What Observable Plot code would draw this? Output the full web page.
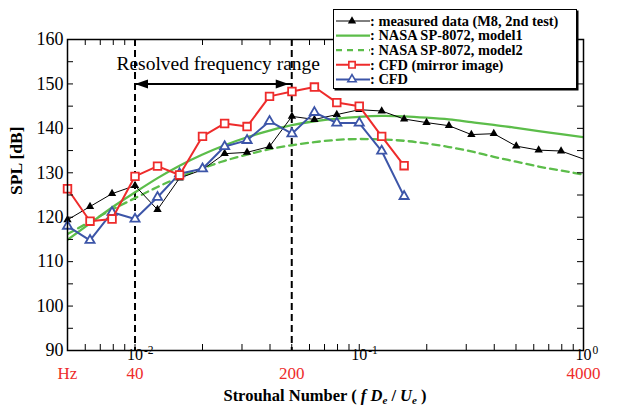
<!DOCTYPE html>
<html>
<head>
<meta charset="utf-8">
<script src="https://cdn.jsdelivr.net/npm/d3@7"></script>
<script src="https://cdn.jsdelivr.net/npm/@observablehq/plot@0.6"></script>
<style>
  body { margin: 0; background: white; }
  #wrap { position: relative; width: 619px; height: 407px; font-family: "Liberation Serif", "Times New Roman", serif; }
  #chart svg text { font-family: "Liberation Serif", "Times New Roman", serif; }
  #legend { position: absolute; left: 333px; top: 9px; width: 244px; height: 80px; box-sizing: border-box;
            border: 1.5px solid #000; background: #fff; box-shadow: 1.5px 1.5px 0 #000; }
  #legend svg { position: absolute; left: -1.5px; top: -1.5px; overflow: visible; }
  #xtitle { position: absolute; left: 67px; width: 516px; top: 388px; text-align: center; font-weight: bold;
            font-size: 16.5px; line-height: 16px; white-space: nowrap; }
  #xtitle sub { font-size: 11px; vertical-align: baseline; position: relative; top: 3px; }
</style>
</head>
<body>
<div id="wrap">
  <div id="chart"></div>
  <div id="legend"></div>
  <div id="xtitle">Strouhal Number ( <i>f D<sub>e</sub></i> / <i>U<sub>e</sub></i> )</div>
</div>
<script>
// ---- data ----
const strouhal = [0.005, 0.0063, 0.0079, 0.01, 0.0126, 0.0158, 0.02, 0.0251, 0.0316, 0.0398, 0.0501, 0.0631,
                  0.0794, 0.1, 0.1259, 0.1585, 0.1995, 0.2512, 0.3162, 0.3981, 0.5012, 0.631, 0.7943, 1.0];
const measured = [119.4, 122.4, 125.3, 127.1, 121.7, 128.8, 130.7, 134.3, 134.6, 135.9, 142.7, 142.0,
                  143.1, 144.2, 143.9, 142.1, 141.3, 140.6, 138.6, 138.8, 136.0, 135.1, 134.9, 133.1];
const model1 = [114.9, 118.6, 122.2, 125.6, 128.8, 131.6, 134.1, 136.2, 138.0, 139.5, 140.7, 141.6,
                142.2, 142.6, 142.8, 142.7, 142.4, 142.0, 141.4, 140.8, 140.1, 139.4, 138.7, 138.0];
const model2 = [116.2, 119.0, 121.7, 124.3, 126.8, 129.0, 131.0, 132.7, 134.1, 135.3, 136.2, 136.9,
                137.4, 137.6, 137.5, 137.2, 136.6, 135.8, 134.8, 133.6, 132.5, 131.4, 130.5, 129.6];
const cfdMirror = [126.4, 119.1, 119.6, 129.2, 131.5, 129.5, 138.2, 141.1, 140.4, 147.2, 148.3, 149.3,
                   145.8, 145.0, 138.2, 131.6];
const cfd = [118.0, 114.8, 121.1, 119.6, 124.5, 129.8, 130.9, 135.9, 137.3, 141.6, 138.8, 143.6,
             141.2, 141.2, 134.9, 124.7];

const yTickLabels = [90, 100, 110, 120, 130, 140, 150, 160];
const yTickMarks = [95, 100, 105, 110, 115, 120, 125, 130, 135, 140, 145, 150, 155];
const xTickMarks = [0.006, 0.007, 0.008, 0.009, 0.01, 0.02, 0.03, 0.04, 0.05, 0.06, 0.07, 0.08, 0.09,
                    0.1, 0.2, 0.3, 0.4, 0.5, 0.6, 0.7, 0.8, 0.9];
const xDecades = [0.01, 0.1, 1];
const xExponents = ["-2", "-1", "0"];
const hzPositions = [0.005, 0.01, 0.05, 1];
const hzLabels = ["Hz", "40", "200", "4000"];
const resolvedRange = [0.01, 0.05];
const arrowLevel = 150;
const annotation = [{st: 0.0235, spl: 154.6, text: "Resolved frequency range"}];

const legendLabels = [": measured data (M8, 2nd test)", ": NASA SP-8072, model1", ": NASA SP-8072, model2",
                      ": CFD (mirror image)", ": CFD"];

const GREEN = "#5cbd4a", RED = "#ee2b2b", BLUE = "#3c55a8";
const SERIF = "Liberation Serif";

const rows = ys => ys.map((spl, i) => ({st: strouhal[i], spl}));
const measuredRows = rows(measured);
const model1Rows = rows(model1);
const model2Rows = rows(model2);
const mirrorRows = rows(cfdMirror);
const cfdRows = rows(cfd);

// arrow head symbols (tip at origin)
const headRight = {draw(ctx) { ctx.moveTo(0, 0); ctx.lineTo(-13, -4.5); ctx.lineTo(-13, 4.5); ctx.closePath(); }};
const headLeft = {draw(ctx) { ctx.moveTo(0, 0); ctx.lineTo(13, -4.5); ctx.lineTo(13, 4.5); ctx.closePath(); }};

const plot = Plot.plot({
  width: 619, height: 407,
  marginTop: 39, marginRight: 36, marginBottom: 57, marginLeft: 67,
  style: {fontFamily: SERIF, fontSize: "17px", background: "white", color: "black", overflow: "visible"},
  x: {type: "log", domain: [0.005, 1], axis: null},
  y: {domain: [90, 160], axis: null},
  marks: [
    // resolved range
    Plot.ruleX(resolvedRange, {x: d => d, stroke: "black", strokeWidth: 2, strokeDasharray: "7,4"}),
    Plot.link([resolvedRange], {x1: d => d[0], x2: d => d[1], y1: arrowLevel, y2: arrowLevel, stroke: "black", strokeWidth: 2}),
    Plot.dot([resolvedRange[0]], {x: d => d, y: arrowLevel, symbol: headLeft, fill: "black", stroke: null, r: 4}),
    Plot.dot([resolvedRange[1]], {x: d => d, y: arrowLevel, symbol: headRight, fill: "black", stroke: null, r: 4, dx: -3}),
    Plot.text(annotation, {x: "st", y: "spl", text: "text", fontSize: 19.5, fontFamily: SERIF, fill: "black"}),
    // models
    Plot.line(model1Rows, {x: "st", y: "spl", stroke: GREEN, strokeWidth: 2.3, curve: "natural", clip: true}),
    Plot.line(model2Rows, {x: "st", y: "spl", stroke: GREEN, strokeWidth: 2.3, strokeDasharray: "7,5", curve: "natural", clip: true}),
    // measured
    Plot.line(measuredRows, {x: "st", y: "spl", stroke: "black", strokeWidth: 1, clip: true}),
    Plot.dot(measuredRows.filter(d => d.st < 1), {x: "st", y: "spl", symbol: "triangle", fill: "black", stroke: null, r: 3.1}),
    // CFD
    Plot.line(cfdRows, {x: "st", y: "spl", stroke: BLUE, strokeWidth: 2}),
    Plot.dot(cfdRows, {x: "st", y: "spl", symbol: "triangle", fill: "white", stroke: BLUE, strokeWidth: 1.8, r: 3.4}),
    Plot.line(mirrorRows, {x: "st", y: "spl", stroke: RED, strokeWidth: 2}),
    Plot.dot(mirrorRows, {x: "st", y: "spl", symbol: "square", fill: "white", stroke: RED, strokeWidth: 1.8, r: 4.3}),
    // inward ticks
    Plot.tickY(yTickMarks, {y: d => d, insetRight: 510, stroke: "black", strokeWidth: 1}),
    Plot.tickY(yTickMarks, {y: d => d, insetLeft: 510, stroke: "black", strokeWidth: 1}),
    Plot.tickX(xTickMarks, {x: d => d, insetTop: 305, stroke: "black", strokeWidth: 1}),
    Plot.tickX(xTickMarks, {x: d => d, insetBottom: 305, stroke: "black", strokeWidth: 1}),
    Plot.frame({stroke: "black", strokeWidth: 1.5}),
    // y tick labels
    Plot.text(yTickLabels, {y: d => d, text: d => String(d), frameAnchor: "left", textAnchor: "end", dx: -4, fontSize: 18, fontFamily: SERIF, fill: "black"}),
    // x tick labels 10^n
    Plot.text(xDecades, {x: d => d, text: () => "10", frameAnchor: "bottom", textAnchor: "end", dx: 8, dy: 9, fontSize: 16, fontFamily: SERIF, fill: "black"}),
    Plot.text(xDecades, {x: d => d, text: (d, i) => xExponents[i], frameAnchor: "bottom", textAnchor: "start", dx: 9, dy: 3, fontSize: 11.5, fontFamily: SERIF, fill: "black"}),
    // Hz labels
    Plot.text(hzPositions, {x: d => d, text: (d, i) => hzLabels[i], frameAnchor: "bottom", dy: 28, fontSize: 17, fontFamily: SERIF, fill: RED}),
    // y title
    Plot.text(["SPL [dB]"], {text: d => d, frameAnchor: "left", dx: -51, rotate: -90, fontSize: 17.5, fontWeight: "bold", fontFamily: SERIF, fill: "black"})
  ]
});
document.getElementById("chart").appendChild(plot);

// legend
const legendSpec = [
  {stroke: "black", width: 1, dash: null, symbol: d3.symbolTriangle, fill: "black", mstroke: "none", size: 30},
  {stroke: GREEN, width: 2.3, dash: null, symbol: null},
  {stroke: GREEN, width: 2.3, dash: "6,5", symbol: null},
  {stroke: RED, width: 2, dash: null, symbol: d3.symbolSquare, fill: "white", mstroke: RED, size: 40},
  {stroke: BLUE, width: 2, dash: null, symbol: d3.symbolTriangle, fill: "white", mstroke: BLUE, size: 30}
];
const lsvg = d3.select("#legend").append("svg").attr("width", 244).attr("height", 80);
legendLabels.forEach((label, i) => {
  const cy = 12 + 14.6 * i;
  const spec = legendSpec[i];
  lsvg.append("line").attr("x1", 3).attr("x2", 37).attr("y1", cy).attr("y2", cy)
    .attr("stroke", spec.stroke).attr("stroke-width", spec.width)
    .attr("stroke-dasharray", spec.dash);
  if (spec.symbol) {
    lsvg.append("path").attr("d", d3.symbol(spec.symbol, spec.size)())
      .attr("transform", `translate(19,${cy})`)
      .attr("fill", spec.fill).attr("stroke", spec.mstroke).attr("stroke-width", 1.6);
  }
  lsvg.append("text").attr("x", 37).attr("y", cy + 4.7).text(label)
    .attr("font-family", SERIF).attr("font-weight", "bold").attr("font-size", 14.4);
});
</script>
</body>
</html>
